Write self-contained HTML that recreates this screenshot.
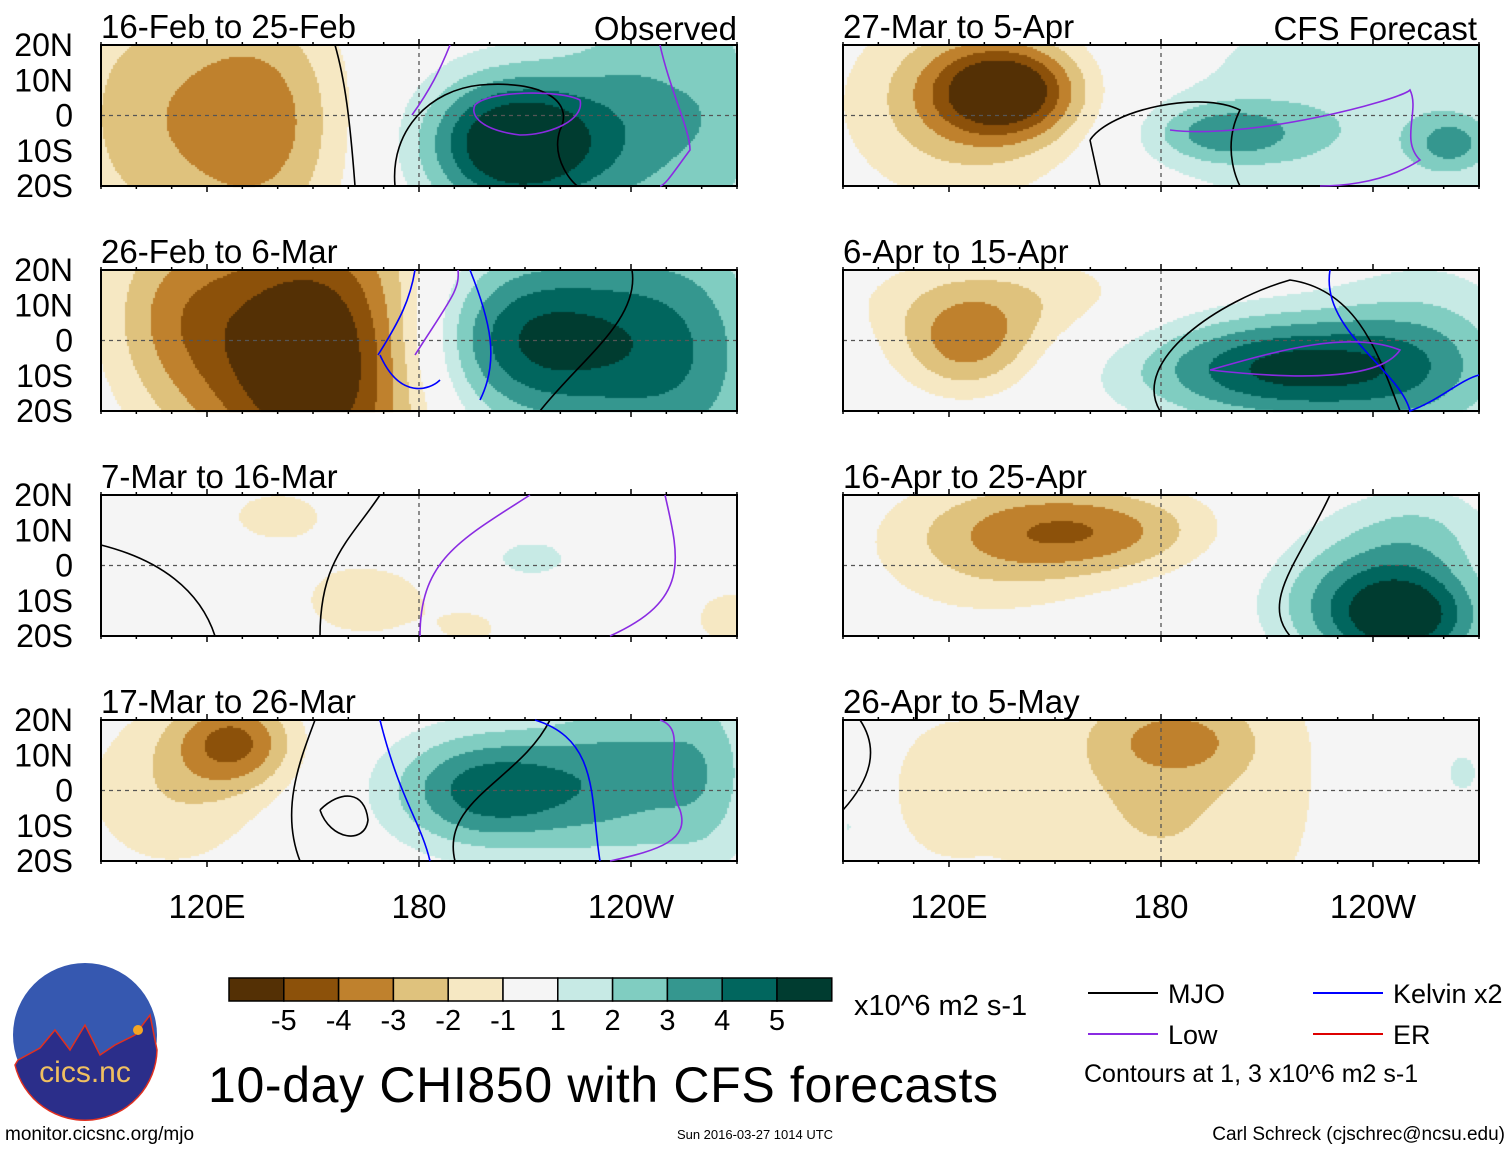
<!DOCTYPE html>
<html><head><meta charset="utf-8"><style>
body{margin:0;background:#fff;width:1510px;height:1149px;overflow:hidden;position:relative;font-family:"Liberation Sans",sans-serif}
canvas,svg{position:absolute;left:0;top:0}
</style></head><body>
<canvas id="cv" width="1510" height="1149"></canvas>
<svg id="sv" width="1510" height="1149" xmlns="http://www.w3.org/2000/svg"></svg>
<script>
// Data: each panel: title, blobs [lon, lat, amp, sdLon, sdLat]
const panelTitles = ["16-Feb to 25-Feb","26-Feb to 6-Mar","7-Mar to 16-Mar","17-Mar to 26-Mar","27-Mar to 5-Apr","6-Apr to 15-Apr","16-Apr to 25-Apr","26-Apr to 5-May"];
const blobsP1 = [[135,-2,-3.5,17,25],[100,0,-2.2,18,30],[207,-8,6.6,18,14],[245,0,2.8,18,30],[268,0,1.3,10,30]];
const blobsP2 = [[150,-5,-6.6,24,30],[110,8,-2.2,15,20],[212,0,5.2,24,18],[255,-5,3.2,20,30]];
const blobsP3 = [[165,-10,-1.8,14,8],[140,14,-1.3,15,8],[212,2,1.4,10,5],[268,-15,-1.4,10,8],[195,-18,-1.2,8,5]];
const blobsP4 = [[128,14,-3.6,12,9],[110,0,-1.8,20,18],[200,0,4.6,20,12],[240,5,2.8,18,20],[262,5,1.6,10,20]];
const blobsP5 = [[136,7,-5.0,14,9],[125,3,-2.6,25,20],[198,-5,2.8,15,6],[240,0,1.8,45,30],[262,-8,2.2,7,5]];
const blobsP6 = [[125,-2,-3.0,14,10],[135,12,-1.8,30,10],[215,-8,5.2,30,11],[255,-5,2.0,20,20]];
const blobsP7 = [[160,10,-3.2,25,9],[130,5,-1.8,25,15],[250,-15,4.6,16,10],[235,-8,2.5,20,15],[255,10,1.5,15,10]];
const blobsP8 = [[185,14,-1.6,14,7],[180,2,-2.15,34,40],[115,0,-1.0,14,20],[265,5,1.2,8,10],[92,-10,1.3,4,8]];
const panelBlobs = [blobsP1,blobsP2,blobsP3,blobsP4,blobsP5,blobsP6,blobsP7,blobsP8];
const levels = [-5,-4,-3,-2,-1,1,2,3,4,5];
const colors = ["#543005","#8c510a","#bf812d","#dfc27d","#f6e8c3","#f5f5f5","#c7eae5","#80cdc1","#35978f","#01665e","#003c30"];
const xTickLabels = ["120E","180","120W"];
const xTickLons = [120,180,240];
const yTickLabels = ["20N","10N","0","10S","20S"];
const yTickLats = [20,10,0,-10,-20];

const NS="http://www.w3.org/2000/svg";
const sv=document.getElementById('sv');
const ctx=document.getElementById('cv').getContext('2d');
const PW=636, PH=141;
const origins=[[101,45],[101,270],[101,495],[101,720],[843,45],[843,270],[843,495],[843,720]];
function xs(ox,lon){return ox+(lon-90)/180*PW;}
function ys(oy,lat){return oy+(20-lat)/40*PH;}
function col(v){let i=0;while(i<levels.length&&v>levels[i])i++;return colors[i];}
function mk(tag,attrs,parent){const e=document.createElementNS(NS,tag);for(const k in attrs)e.setAttribute(k,attrs[k]);(parent||sv).appendChild(e);return e;}
function txt(s,x,y,size,anchor,parent,extra){const t=mk('text',Object.assign({x:x,y:y,'font-size':size,'text-anchor':anchor||'start','font-family':'Liberation Sans, sans-serif',fill:'#000'},extra||{}),parent);t.textContent=s;return t;}

panelBlobs.forEach((bl,p)=>{
  const [ox,oy]=origins[p];
  const step=2;
  for(let px=0;px<PW;px+=step){
    const lon=90+(px+1)/PW*180;
    for(let py=0;py<PH;py+=step){
      const lat=20-(py+1)/PH*40;
      let v=0;
      bl.forEach(b=>{v+=b[2]*Math.exp(-((lon-b[0])**2)/(2*b[3]*b[3])-((lat-b[1])**2)/(2*b[4]*b[4]));});
      ctx.fillStyle=col(v);
      ctx.fillRect(ox+px,oy+py,step,step);
    }
  }
  const g=mk('g',{});
  
  
  mk('line',{x1:ox,x2:ox+PW,y1:ys(oy,0),y2:ys(oy,0),stroke:'#555','stroke-dasharray':'4,4','stroke-width':1.3},g);
  mk('line',{x1:xs(ox,180),x2:xs(ox,180),y1:oy,y2:oy+PH,stroke:'#555','stroke-dasharray':'4,4','stroke-width':1.3},g);
  mk('rect',{x:ox,y:oy,width:PW,height:PH,fill:'none',stroke:'#000','stroke-width':2},g);
  for(let lon=90;lon<=270;lon+=10){
    const x=xs(ox,lon),major=xTickLons.includes(lon);
    mk('line',{x1:x,x2:x,y1:oy,y2:oy-(major?6:3),stroke:'#000','stroke-width':1.5},g);
    mk('line',{x1:x,x2:x,y1:oy+PH,y2:oy+PH+(major?6:3),stroke:'#000','stroke-width':1.5},g);
  }
  const t=txt(panelTitles[p],ox,oy-7,33,'start',g);
  
  
  if(p===0)txt('Observed',ox+PW,oy-5,33,'end',g);
  if(p===4)txt('CFS Forecast',ox+PW-2,oy-5,33,'end',g);
  if(p<4){yTickLabels.forEach((l,i)=>{txt(l,73,ys(oy,yTickLats[i])+11,32,'end',g);});}
});
[101,843].forEach(ox=>{xTickLons.forEach((lon,i)=>{const t=txt(xTickLabels[i],xs(ox,lon),918,33,'middle');});});

// Sample contours (approximate)
[["M335,45 C345,80 350,120 355,186","#000"],["M395,186 C390,130 430,90 480,85 C540,80 575,100 560,130 C550,160 575,186 578,186","#000"],["M475,105 C490,90 560,90 580,100 C585,120 550,135 520,135 C480,130 470,115 475,105","#8a2be2"],["M412,115 C430,90 440,70 450,45","#8a2be2"],["M660,45 C670,90 690,130 690,150 C675,170 665,186 660,186","#8a2be2"],
["M378,355 C400,320 410,300 415,270 M380,355 C400,400 430,390 440,380","#0000ff"],["M470,270 C490,320 500,360 480,400","#0000ff"],["M415,355 C450,300 460,290 458,270","#8a2be2"],["M632,270 C640,320 580,360 540,411","#000"],
["M320,636 C320,560 350,540 380,495","#000"],["M420,636 C420,560 460,540 530,495","#8a2be2"],["M665,495 C680,560 690,600 610,636","#8a2be2"],["M101,545 C160,560 200,590 215,636","#000"],
["M300,861 C280,810 300,760 315,720","#000"],["M380,720 C400,800 420,820 430,861","#0000ff"],["M455,861 C440,800 520,780 550,720","#000"],["M535,720 C600,740 590,800 600,861","#0000ff"],["M610,861 C660,850 690,840 680,810 C660,770 690,730 660,720","#8a2be2"],["M320,810 C340,790 365,790 368,820 C365,845 330,840 320,810","#000"],
["M1090,140 C1110,110 1200,90 1240,110 C1220,150 1240,186 1240,186 M1100,186 L1090,140","#000"],["M1170,130 C1250,140 1400,100 1410,90 C1420,110 1400,140 1420,160 C1380,186 1330,186 1320,186","#8a2be2"],
["M1160,411 C1130,360 1220,300 1290,280 C1360,290 1380,360 1400,411","#000"],["M1330,270 C1320,330 1400,370 1410,411 C1440,400 1460,380 1479,375","#0000ff"],["M1210,370 C1280,350 1350,330 1400,350 C1380,380 1300,380 1210,370","#8a2be2"],
["M1330,495 C1300,560 1260,600 1290,636","#000"],["M843,810 C870,780 880,750 860,720","#000"]].forEach(([d,c])=>{const e=mk('path',{d:d,fill:'none',stroke:c,'stroke-width':1.6});});

// Colorbar
const cb=mk('g',{});


colors.forEach((c,i)=>{mk('rect',{x:229+i*54.8,y:978,width:54.8,height:23,fill:c,stroke:'#000','stroke-width':1.5},cb);});
levels.forEach((l,i)=>{txt(String(l),229+(i+1)*54.8,1030,29,'middle',cb);});
txt('x10^6 m2 s-1',854,1015,29,'start',cb);
const title=txt('10-day CHI850 with CFS forecasts',208,1102,50,'start');
title.setAttribute('textLength','790');



// Legend
const lg=mk('g',{});


[[1088,993,'#000','MJO'],[1088,1034,'#8a2be2','Low'],[1313,993,'#0000ff','Kelvin x2'],[1313,1034,'#dd0000','ER']].forEach(([x,y,c,l])=>{
  mk('line',{x1:x,x2:x+70,y1:y,y2:y,stroke:c,'stroke-width':2},lg);
  txt(l,x+80,y+10,27,'start',lg);
});
txt('Contours at 1, 3 x10^6 m2 s-1',1084,1082,25,'start',lg);

// Logo
const lo=mk('g',{});


mk('circle',{cx:85,cy:1035,r:72,fill:'#3658b0'},lo);
mk('path',{d:'M18,1060 L40,1048 L55,1030 L70,1050 L85,1025 L100,1055 L115,1045 L135,1035 L150,1015 L157,1050 A72,72 0 0 1 15,1065 Z',fill:'#2b2e8a',stroke:'#e03020','stroke-width':1.5},lo);
mk('circle',{cx:138,cy:1030,r:5,fill:'#f5a623'},lo);
txt('cics.nc',85,1082,30,'middle',lo,{fill:'#f0c060'});
txt('monitor.cicsnc.org/mjo',5,1140,19,'start');
txt('Sun 2016-03-27 1014 UTC',755,1139,13,'middle');
txt('Carl Schreck (cjschrec@ncsu.edu)',1505,1140,19,'end');
</script>
</body></html>
